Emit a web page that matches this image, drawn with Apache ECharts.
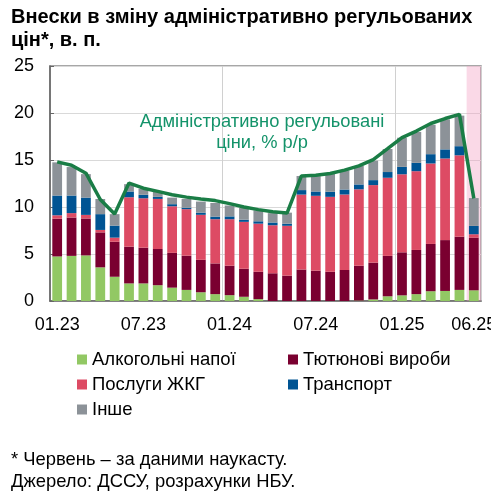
<!DOCTYPE html>
<html><head><meta charset="utf-8">
<script src="https://cdn.jsdelivr.net/npm/echarts@6/dist/echarts.min.js"></script>
<style>html,body{margin:0;padding:0;background:#fff}#c{width:491px;height:492px}</style>
</head><body><div id="c"></div>
<script>
const months = ['01.23','02.23','03.23','04.23','05.23','06.23','07.23','08.23','09.23','10.23','11.23','12.23',
  '01.24','02.24','03.24','04.24','05.24','06.24','07.24','08.24','09.24','10.24','11.24','12.24',
  '01.25','02.25','03.25','04.25','05.25','06.25'];
const shownLabels = ['01.23','07.23','01.24','07.24','01.25','06.25'];
const alcohol = [4.74,4.80,4.85,3.58,2.58,1.87,1.87,1.68,1.42,1.18,0.93,0.73,0.62,0.45,0.20,0,0,0,0,0,0,0.05,0.17,0.50,0.60,0.73,1.04,1.07,1.18,1.14];
const tobacco = [4.02,4.08,3.93,3.72,3.72,3.91,3.80,3.85,3.70,3.64,3.45,3.27,3.13,2.98,2.91,2.95,2.70,3.35,3.23,3.11,3.30,3.70,3.91,4.30,4.58,4.70,5.03,5.41,5.66,5.60];
const utilities = [0.36,0.47,0.38,0.26,0.44,5.26,5.26,5.33,4.96,4.95,4.79,4.70,4.95,4.99,5.12,5.11,5.30,7.97,7.96,7.97,8.03,8.13,8.25,8.31,8.30,8.38,8.56,8.68,8.66,0.36];
const transport = [2.10,1.87,1.84,1.68,1.28,0.61,0.37,0.22,0.22,0.15,0.23,0.28,0.30,0.23,0.25,0.29,0.22,0.48,0.46,0.54,0.53,0.52,0.53,0.61,0.79,0.89,0.99,0.97,0.97,0.89];
const other = [3.53,3.03,2.50,1.61,1.22,0.78,0.64,0.52,0.70,0.93,1.18,1.45,1.16,1.25,1.16,1.00,1.18,1.50,1.63,1.92,2.04,1.97,2.07,2.45,3.10,3.29,3.13,3.19,3.25,2.96];
const total = [14.80,14.45,13.60,10.80,9.25,12.55,12.00,11.66,11.30,11.05,10.85,10.68,10.36,10.00,9.72,9.50,9.36,13.30,13.37,13.57,13.92,14.37,15.05,16.20,17.39,18.08,18.88,19.41,19.85,10.92];
const nowcastMonth = '06.25';
const yMax = 25;
const names = ['Алкогольні напої','Тютюнові вироби','Послуги ЖКГ','Транспорт','Інше'];
const colors = ['#92c864','#7a0030','#dd4b64','#005493','#8c9298'];

const font = 'Liberation Sans, Arial, sans-serif';
const chart = echarts.init(document.getElementById('c'), null, {renderer:'canvas'});
const stackData = [alcohol, tobacco, utilities, transport, other];
const series = stackData.map((d,i)=>({
  name: names[i], type:'bar', stack:'s', data:d, xAxisIndex:0,
  itemStyle:{color:colors[i]}, barWidth:'68%', z:3
}));
series.unshift({
  name:'nowcast', type:'bar', xAxisIndex:1, barWidth:'100%', silent:true, z:1,
  itemStyle:{color:'rgba(242,160,195,0.4)'},
  data: months.map(m => m===nowcastMonth ? yMax : '-')
});
series.push({
  name:'Адміністративно регульовані ціни, % р/р', type:'line', data: total, symbol:'none',
  lineStyle:{color:'#1a7d46', width:3.5}, itemStyle:{color:'#1a7d46'}, z:5
});
chart.setOption({
  animation:false,
  textStyle:{fontFamily:font},
  title:[
    {text:'Внески в зміну адміністративно регульованих\nцін*, в. п.', left:6, top:1,
     textStyle:{fontSize:20, fontWeight:'bold', color:'#000', lineHeight:23, fontFamily:font}},
    {text:'Адміністративно регульовані\nціни, % р/р', left:257, top:106, textAlign:'center',
     textStyle:{fontSize:18.3, fontWeight:'normal', color:'#14936a', lineHeight:21, fontFamily:font}},
    {text:'* Червень – за даними наукасту.\nДжерело: ДССУ, розрахунки НБУ.', left:6, top:444,
     textStyle:{fontSize:18.4, fontWeight:'normal', color:'#000', lineHeight:22, fontFamily:font}}
  ],
  legend:[
    {data:[names[0],names[2],names[4]], orient:'vertical', left:72, top:345, itemWidth:10, itemHeight:10, itemGap:6,
     icon:'rect', textStyle:{fontSize:18.5, color:'#000', fontFamily:font}},
    {data:[names[1],names[3]], orient:'vertical', left:283, top:345, itemWidth:10, itemHeight:10, itemGap:6,
     icon:'rect', textStyle:{fontSize:18.5, color:'#000', fontFamily:font}}
  ],
  grid:{left:50, top:66, width:431, height:235, show:true, borderColor:'#8a8a8a', borderWidth:1.5,
        containLabel:false, outerBoundsMode:'none'},
  xAxis:[
    {type:'category', data:months, boundaryGap:true,
     axisLine:{lineStyle:{color:'#666', width:1.5}},
     axisTick:{show:false},
     axisLabel:{fontSize:18, color:'#000', margin:15, interval:(i,v)=>shownLabels.includes(v), fontFamily:font},
     splitLine:{show:true, interval:(i)=> i>0 && i%12===0, lineStyle:{color:'#d0d0d0', width:1}}},
    {type:'category', data:months, show:false, boundaryGap:true}
  ],
  yAxis:{type:'value', min:0, max:yMax, interval:5,
    axisLine:{show:true, lineStyle:{color:'#666', width:1.5}},
    axisTick:{show:true, inside:true, length:4, lineStyle:{color:'#666'}},
    axisLabel:{fontSize:18, color:'#000', margin:16, fontFamily:font},
    splitLine:{lineStyle:{color:'#d9d9d9', width:1}}},
  series
});
</script></body></html>
